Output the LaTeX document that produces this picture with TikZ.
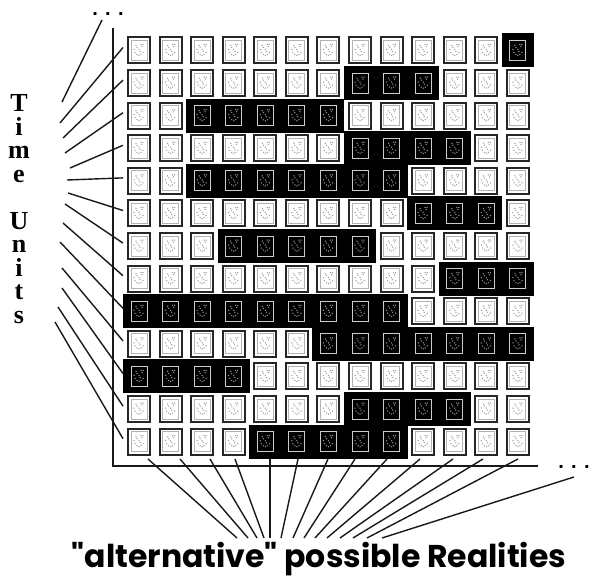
\documentclass[tikz,border=0pt]{standalone}
\usepackage{fontspec}
\newfontfamily\unitsfont{Liberation Serif}
\newfontfamily\realityfont{Poppins}
\newfontfamily\dotsfont{Liberation Sans}
\usepackage{tikz}
\usetikzlibrary{positioning, calc, backgrounds}

% stippled face inside one cell
\newcommand{\cellface}[2]{%
  \draw[#1, line width=1pt] ([shift={(-8,-10)}]path picture bounding box.center) rectangle ([shift={(8,10)}]path picture bounding box.center);
  \foreach \dx/\dy in {-3/-5, -2/-3, 2/-6, 3/-4, 4/-6, 0/-1, -4/2, -2/4, 0/5, 2/4, 4/2, -5/-1, 1/1}
    \fill[#2] ([shift={(\dx,\dy)}]path picture bounding box.center) circle (0.75pt);
}

\begin{document}
\begin{tikzpicture}[
    x=1pt, y=-1pt,
    cell/.style={rectangle, draw=black!85, line width=2pt, fill=white, minimum width=22pt, minimum height=26pt, inner sep=0pt, path picture={\cellface{gray!60}{gray!75}}},
    darkcell/.style={cell, draw=black, fill=black, path picture={\cellface{white!80!black}{gray!85}}},
    bar/.style={fill=black},
    axis/.style={line width=2.6pt, black!90},
    fan/.style={line width=1.4pt, black!90},
    dots/.style={font=\dotsfont\bfseries\fontsize{20}{20}\selectfont, inner sep=1pt}
]
    \useasboundingbox (0,0) rectangle (595,577);
    % Grid of realities: row / first dark / last dark
    \foreach \r/\a/\b in {1/13/13, 2/8/10, 3/3/7, 4/8/11, 5/3/9, 6/10/12, 7/4/8, 8/11/13, 9/1/9, 10/7/13, 11/1/4, 12/8/11, 13/5/9} {
        \foreach \c in {1,...,13} {
            \def\kind{cell}
            \ifnum\c<\a\relax\else\ifnum\c>\b\relax\else\def\kind{darkcell}\fi\fi
            \node[\kind] (c-\r-\c) at ({139+31.58*(\c-1)}, {50.5+32.6*(\r-1)}) {};
        }
    }
    % Dark bars behind the chosen cells
    \begin{scope}[on background layer]
        \foreach \r/\a/\b in {1/13/13, 2/8/10, 3/3/7, 4/8/11, 5/3/9, 6/10/12, 7/4/8, 8/11/13, 9/1/9, 10/7/13, 11/1/4, 12/8/11, 13/5/9}
            \fill[bar] ([shift={(-4,-3)}]c-\r-\a.north west) rectangle ([shift={(4,3)}]c-\r-\b.south east);
    \end{scope}
    % Axes
    \coordinate (ytop) at (113,28);
    \coordinate (origin) at (113,466);
    \coordinate (xend) at (538,466);
    \draw[axis] (ytop) -- (origin) -- (xend);
    % Labels
    \node[font=\unitsfont\bfseries\fontsize{26}{23.5}\selectfont, align=center, inner sep=0pt] (units) at (19,209) {T\\i\\m\\e\\[23.5pt]U\\n\\i\\t\\s};
    \node[font=\realityfont\bfseries\fontsize{31.5}{36}\selectfont, anchor=base, inner sep=0pt] (realities) at (319,567) {"alternative" possible Realities};
    \node[dots] (topdots) at (108,14) {. . .};
    \node[dots] (rightdots) at (574,467) {. . .};
    % Time fan
    \coordinate (tu-0) at (62,102);
    \draw[fan] (tu-0) -- ([shift={(-6,6)}]topdots.center);
    \foreach \r/\lx/\ly in {1/60/123, 2/63/138, 3/65/153, 4/70/168, 5/67/180, 6/68/193, 7/65/204, 8/63/223, 9/60/242, 10/62/268, 11/62/288, 12/58/307, 13/55/322} {
        \coordinate (tu-\r) at (\lx,\ly);
        \draw[fan] (tu-\r) -- ([shift={(-4,-3)}]c-\r-1.west);
    }
    % Realities fan
    \foreach \c/\sx/\ex in {1/148/237, 2/180/248, 3/210/257, 4/235/264, 5/270/270, 6/298/281, 7/328/293, 8/355/304, 9/387/315, 10/420/327, 11/453/340, 12/483/353, 13/518/367} {
        \coordinate (col-\c) at (\sx,459);
        \coordinate (ar-\c) at (\ex,538);
        \draw[fan] (col-\c) -- (ar-\c);
    }
    \coordinate (ar-0) at (382,538);
    \draw[fan] (ar-0) -- ([shift={(0,10)}]rightdots.center);
\end{tikzpicture}
\end{document}
